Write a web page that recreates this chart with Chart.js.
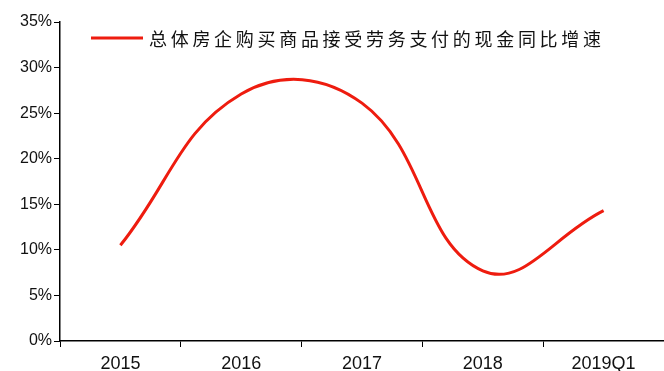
<!DOCTYPE html>
<html>
<head>
<meta charset="utf-8">
<script src="https://cdn.jsdelivr.net/npm/chart.js@4/dist/chart.umd.min.js"></script>
<style>
  html, body { margin: 0; padding: 0; background: #fff; }
  #wrap { width: 664px; height: 371px; position: relative; }
</style>
</head>
<body>
<div id="wrap"><canvas id="c"></canvas></div>
<script>
// Year-over-year growth of cash paid by developers for goods and services (%)
const categories = ['2015', '2016', '2017', '2018', '2019Q1'];
const growthValues = [10.5, 27.1, 26.1, 7.7, 14.3];
const yTickValues = [0, 5, 10, 15, 20, 25, 30, 35];
const seriesLabel = '总体房企购买商品接受劳务支付的现金同比增速';

const fontFamily = "'Liberation Sans', Arial, sans-serif";

// Legend drawn inside the plot, top-left, with wide character spacing
const insideLegend = {
  id: 'insideLegend',
  afterDraw(chart) {
    const ctx = chart.ctx;
    const ds = chart.data.datasets[0];
    ctx.save();
    ctx.strokeStyle = ds.borderColor;
    ctx.lineWidth = 3;
    ctx.beginPath();
    ctx.moveTo(91, 38);
    ctx.lineTo(143, 38);
    ctx.stroke();
    ctx.fillStyle = '#111';
    ctx.font = "18px 'Noto Sans CJK SC', sans-serif";
    ctx.textBaseline = 'middle';
    const step = 21.7;
    Array.from(ds.label).forEach((ch, i) => {
      ctx.fillText(ch, 149 + i * step, 39);
    });
    ctx.restore();
  }
};

new Chart(document.getElementById('c'), {
  type: 'line',
  data: {
    labels: categories,
    datasets: [{
      label: seriesLabel,
      data: growthValues,
      borderColor: '#ee1c0f',
      borderWidth: 3,
      pointRadius: 0,
      tension: 0.42,
      fill: false
    }]
  },
  options: {
    responsive: true,
    maintainAspectRatio: false,
    animation: false,
    layout: { padding: { top: 22, right: 0, left: 0, bottom: 0 } },
    plugins: { legend: { display: false }, tooltip: { enabled: false } },
    scales: {
      x: {
        type: 'category',
        offset: true,
        grid: { offset: true, drawOnChartArea: false, drawTicks: true, tickLength: 6, color: '#000' },
        border: { color: '#000', width: 1.5 },
        ticks: { color: '#111', font: { family: fontFamily, size: 18 }, padding: 6, maxRotation: 0 },
        afterFit(scale) { scale.height = 30; }
      },
      y: {
        min: 0,
        max: 35,
        afterBuildTicks(scale) { scale.ticks = yTickValues.map(v => ({ value: v })); },
        grid: { drawOnChartArea: false, drawTicks: true, tickLength: 6, color: '#000' },
        border: { color: '#000', width: 1.5 },
        ticks: { color: '#111', font: { family: fontFamily, size: 16 }, padding: 2, callback: v => v + '%' },
        afterFit(scale) { scale.width = 60; }
      }
    }
  },
  plugins: [insideLegend]
});
</script>
</body>
</html>
